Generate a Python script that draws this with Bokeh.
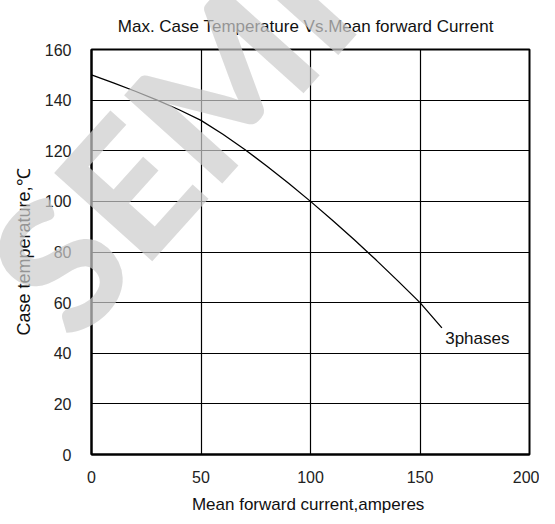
from bokeh.plotting import figure
from bokeh.models import Label, FixedTicker, Range1d, Title
from bokeh.core.properties import value
from bokeh.embed import file_html
from bokeh.resources import INLINE
import math

# Data
current = [0, 10, 20, 30, 40, 50, 60, 70, 80, 90, 100, 110, 120, 130, 140, 150, 160]
temperature = [150, 146.8, 143.5, 140, 136.2, 132, 126.5, 120.5, 114, 107.2, 100, 92.5, 84.8, 76.8, 68.5, 60, 50]
x_ticks = [0, 50, 100, 150, 200]
y_ticks = [0, 20, 40, 60, 80, 100, 120, 140, 160]
series_label = "3phases"
title_text = "Max. Case Temperature  Vs.Mean forward  Current"
x_label = "Mean forward  current,amperes"
y_label = "Case temperature,\u2103"
watermark = "SEMI"

FONT = "Liberation Sans"

p = figure(width=539, height=516, output_backend="svg", toolbar_location=None,
           x_range=Range1d(0, 200), y_range=Range1d(0, 160),
           min_border_left=91, min_border_right=10, min_border_top=44, min_border_bottom=56)

p.title.visible = False
t = Title(text=title_text, align="center", text_font=FONT, text_font_size="17px",
          text_font_style="normal", text_color="#111111", standoff=28)
p.add_layout(t, "above")

for ax in (p.xaxis, p.yaxis):
    ax.major_tick_line_color = None
    ax.minor_tick_line_color = None
    ax.axis_line_color = "black"
    ax.axis_line_width = 2
    ax.major_label_text_font = FONT
    ax.major_label_text_font_size = "16px"
    ax.major_label_text_color = "#222222"
    ax.axis_label_text_font = FONT
    ax.axis_label_text_font_style = "normal"
    ax.axis_label_text_color = "#111111"

p.xaxis.axis_label_text_font_size = "17px"
p.yaxis.axis_label_text_font_size = "18px"
p.xaxis.ticker = FixedTicker(ticks=x_ticks)
p.yaxis.ticker = FixedTicker(ticks=y_ticks)
p.xaxis.axis_label = x_label
p.yaxis.axis_label = y_label
p.xaxis.major_label_standoff = 10
p.yaxis.major_label_standoff = 14
p.xaxis.axis_label_standoff = 9
p.yaxis.axis_label_standoff = 8

p.xgrid.grid_line_color = "black"
p.ygrid.grid_line_color = "black"
p.xgrid.grid_line_width = 1.2
p.ygrid.grid_line_width = 1.2
p.outline_line_color = "black"
p.outline_line_width = 2
p.outline_line_alpha = 1

p.line(current, temperature, line_color="black", line_width=1.3)

p.add_layout(Label(x=current[-1] + 1.5, y=temperature[-1] - 4, text=series_label,
                   text_font=FONT, text_font_size="17px", text_color="#111111",
                   text_baseline="middle", text_align="left"))

# watermark overlay (not clipped to the frame)
wm = p.text(x=[-31], y=[61.5], text=[watermark], angle=math.radians(48),
            text_font=value("Lato Black, Roboto Black, Liberation Sans"),
            text_font_size=value("182px"),
            text_color="#cccccc", text_alpha=0.7,
            text_align="left", text_baseline="alphabetic")
wm.level = "overlay"

open("out.html", "w").write(file_html(p, INLINE))
